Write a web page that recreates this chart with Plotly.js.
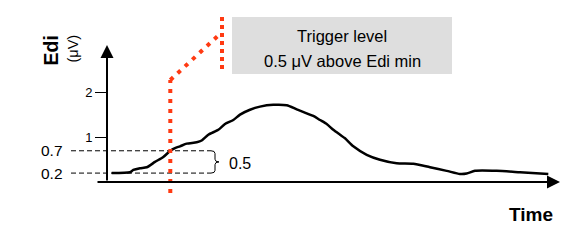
<!DOCTYPE html>
<html>
<head>
<meta charset="utf-8">
<script src="https://cdn.plot.ly/plotly-3.0.1.min.js"></script>
<style>html,body{margin:0;padding:0;background:#fff;}#chart{width:572px;height:244px;}</style>
</head>
<body>
<div id="chart"></div>
<script>
// ---- data ----
var time = [4.7, 23, 26.3, 33, 39.7, 48, 56.3, 63.3, 68, 73, 79.7, 89.7, 94.7, 101.3, 111.3, 118, 126.3, 133, 143, 153, 166.3, 179.7, 189.7, 206.3, 213, 219.7, 226.3, 233, 238, 246.3, 259.7, 273, 289.7, 306.3, 323, 339.7, 353, 359.7, 368, 389.7, 413, 441.3];
var edi = [0.20, 0.22, 0.27, 0.31, 0.33, 0.45, 0.56, 0.70, 0.76, 0.80, 0.86, 0.89, 0.93, 1.06, 1.17, 1.30, 1.39, 1.51, 1.62, 1.69, 1.73, 1.72, 1.63, 1.48, 1.39, 1.30, 1.17, 1.06, 0.98, 0.80, 0.61, 0.50, 0.42, 0.41, 0.33, 0.25, 0.18, 0.19, 0.25, 0.25, 0.22, 0.18];
var ediMin = 0.2;
var triggerLevel = 0.7;
var triggerTime = 63.3;
var yTickVals = [1, 2];
var yTickText = ['1', '2'];
var boxLines = ['Trigger level', '0.5 \u03bcV above Edi min'];

// ---- helpers (paper coords) ----
var L = 107, PW = 452, B = 182, PH = 142;
function px(x) { return (x - L) / PW; }
function py(y) { return (B - y) / PH; }

var red = '#ff3a12';
var diff = Math.round((triggerLevel - ediMin) * 10) / 10;
var mid = (triggerLevel + ediMin) / 2;
var bx0 = px(211), bx1 = px(215), bx2 = px(219);
var r = 0.06;
var bracePath = 'M' + bx0 + ',' + triggerLevel + ' Q' + bx1 + ',' + triggerLevel + ' ' + bx1 + ',' + (triggerLevel - r) +
  ' L' + bx1 + ',' + (mid + r) + ' Q' + bx1 + ',' + mid + ' ' + bx2 + ',' + mid +
  ' Q' + bx1 + ',' + mid + ' ' + bx1 + ',' + (mid - r) +
  ' L' + bx1 + ',' + (ediMin + r) + ' Q' + bx1 + ',' + ediMin + ' ' + bx0 + ',' + ediMin;

var shapes = [
  // grey box
  {type: 'rect', xref: 'paper', yref: 'paper', x0: px(232), x1: px(452), y0: py(74), y1: py(17), fillcolor: '#dedede', line: {width: 0}, layer: 'below'},
  // dashed reference levels
  {type: 'line', xref: 'paper', yref: 'y', x0: px(71), x1: px(211), y0: triggerLevel, y1: triggerLevel, line: {color: '#000', width: 1, dash: '5px,3px'}},
  {type: 'line', xref: 'paper', yref: 'y', x0: px(71), x1: px(211), y0: ediMin, y1: ediMin, line: {color: '#000', width: 1, dash: '5px,3px'}},
  // brace
  {type: 'path', xref: 'paper', yref: 'y', path: bracePath, line: {color: '#000', width: 1}},
  // trigger dotted line
  {type: 'line', xref: 'x', yref: 'paper', x0: triggerTime, x1: triggerTime, y0: py(193), y1: py(80), line: {color: red, width: 4, dash: '4px,6px'}},
  {type: 'line', xref: 'x', yref: 'paper', x0: triggerTime, x1: 114, y0: py(80), y1: py(33), line: {color: red, width: 4, dash: '4px,6px'}},
  {type: 'line', xref: 'x', yref: 'paper', x0: 115, x1: 115, y0: py(17), y1: py(73), line: {color: red, width: 4, dash: '4px,4px'}}
];

var annotations = [
  // axes arrows
  {x: px(560), y: 0, xref: 'paper', yref: 'y', ax: -(560 - 96), ay: 0, axref: 'pixel', ayref: 'pixel', text: '', showarrow: true, arrowhead: 2, arrowsize: 1.3, arrowwidth: 2, arrowcolor: '#000'},
  {x: 0, y: 3.07, xref: 'x', yref: 'y', ax: 0, ay: 0, axref: 'x', ayref: 'y', text: '', showarrow: true, arrowhead: 2, arrowsize: 1.3, arrowwidth: 2, arrowcolor: '#000'},
  // level labels
  {x: px(65), y: triggerLevel, xref: 'paper', yref: 'y', text: String(triggerLevel), showarrow: false, xanchor: 'right', yanchor: 'middle', font: {size: 15.5, color: '#000'}},
  {x: px(65), y: ediMin, xref: 'paper', yref: 'y', text: String(ediMin), showarrow: false, xanchor: 'right', yanchor: 'middle', font: {size: 15.5, color: '#000'}},
  {x: px(239.5), y: mid - 0.03, xref: 'paper', yref: 'y', text: String(diff), showarrow: false, xanchor: 'center', yanchor: 'middle', font: {size: 16, color: '#000'}},
  // box text
  {x: px(342.3), y: py(36.5), xref: 'paper', yref: 'paper', text: boxLines[0], showarrow: false, xanchor: 'center', yanchor: 'middle', font: {size: 16.5, color: '#000'}},
  {x: px(342.3), y: py(61), xref: 'paper', yref: 'paper', text: boxLines[1], showarrow: false, xanchor: 'center', yanchor: 'middle', font: {size: 16.5, color: '#000'}},
  // axis titles
  {x: px(50.5), y: py(51), xref: 'paper', yref: 'paper', text: '<b>Edi</b>', textangle: -90, showarrow: false, xanchor: 'center', yanchor: 'middle', font: {size: 19.5, color: '#000'}},
  {x: px(72.5), y: py(49), xref: 'paper', yref: 'paper', text: '(\u03bcV)', textangle: -90, showarrow: false, xanchor: 'center', yanchor: 'middle', font: {size: 14.5, color: '#000'}},
  {x: px(531), y: py(214), xref: 'paper', yref: 'paper', text: '<b>Time</b>', showarrow: false, xanchor: 'center', yanchor: 'middle', font: {size: 19, color: '#000'}}
];

var trace = {
  x: time, y: edi, type: 'scatter', mode: 'lines',
  line: {color: '#000', width: 2.5, shape: 'spline', smoothing: 0.6},
  hoverinfo: 'skip', cliponaxis: false
};

var layout = {
  width: 572, height: 244,
  margin: {l: 107, r: 13, t: 40, b: 62, pad: 0},
  paper_bgcolor: '#fff', plot_bgcolor: 'rgba(0,0,0,0)',
  font: {family: '"Liberation Sans", Arial, sans-serif', color: '#000'},
  showlegend: false,
  xaxis: {range: [0, 452], showgrid: false, zeroline: false, showline: false, showticklabels: false, ticks: '', fixedrange: true},
  yaxis: {range: [0, 142 / 44.6], showgrid: false, zeroline: false, showline: false,
          tickmode: 'array', tickvals: yTickVals, ticktext: yTickText, ticks: 'outside', ticklen: 11, tickwidth: 1.2, tickcolor: '#000',
          tickfont: {size: 13, color: '#000'}, fixedrange: true},
  shapes: shapes,
  annotations: annotations
};

Plotly.newPlot('chart', [trace], layout, {displayModeBar: false, staticPlot: true});
</script>
</body>
</html>
